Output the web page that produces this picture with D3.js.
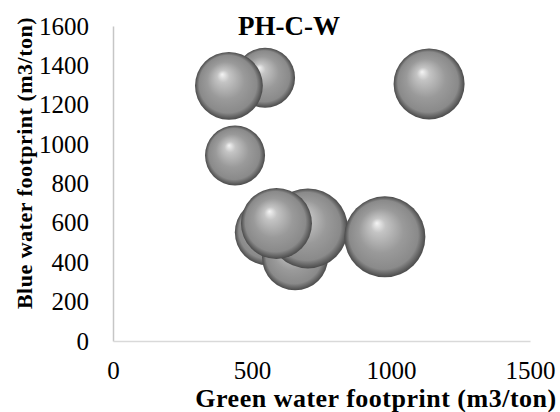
<!DOCTYPE html>
<html><head><meta charset="utf-8">
<script src="https://cdn.jsdelivr.net/npm/d3@7"></script>
<style>body{margin:0;background:#fff} text{font-family:'Liberation Serif','Times New Roman',serif;}</style>
</head><body>
<script>
const greenWF = [547, 417, 1137, 439, 557, 655, 701, 588, 978];
const blueWF  = [1337, 1296, 1306, 942, 552, 425, 572, 597, 529];
const bubbleSize = [900, 1150, 1260, 900, 1090, 1090, 1600, 1260, 1640];
const xTicks = [0, 500, 1000, 1500];
const yTicks = [0, 200, 400, 600, 800, 1000, 1200, 1400, 1600];

const W = 560, H = 412;
const svg = d3.select("body").append("svg").attr("width", W).attr("height", H);
const x = d3.scaleLinear().domain([0, 1500]).range([113, 530]);
const y = d3.scaleLinear().domain([0, 1600]).range([341, 26]);
const r = d3.scaleSqrt().domain([0, d3.max(bubbleSize)]).range([0, 40.5]);

const defs = svg.append("defs");
const g = defs.append("radialGradient").attr("id", "sph")
  .attr("cx", "0.5").attr("cy", "0.5").attr("r", "0.5")
  .attr("fx", "0.4").attr("fy", "0.33");
g.append("stop").attr("offset", "0%").attr("stop-color", "#f4f4f4");
g.append("stop").attr("offset", "18%").attr("stop-color", "#c4c4c4");
g.append("stop").attr("offset", "55%").attr("stop-color", "#9a9a9a");
g.append("stop").attr("offset", "85%").attr("stop-color", "#8a8a8a");
g.append("stop").attr("offset", "100%").attr("stop-color", "#4a4a4a");

const font = "'Liberation Serif','Times New Roman',serif";

const yAxis = svg.append("g").attr("transform", `translate(${x(0)},0)`)
  .call(d3.axisLeft(y).tickValues(yTicks).tickFormat(d3.format("d")).tickSize(0).tickPadding(24));
yAxis.attr("font-family", null);
yAxis.select(".domain").attr("stroke", "#c6c6c6").attr("stroke-width", 1.5);
yAxis.selectAll("text").style("font-family", font).style("font-size", "25px").attr("fill", "#000");

const xAxis = svg.append("g").attr("transform", `translate(0,${y(0)})`)
  .call(d3.axisBottom(x).tickValues(xTicks).tickFormat(d3.format("d")).tickSize(0).tickPadding(20));
xAxis.attr("font-family", null);
xAxis.select(".domain").attr("stroke", "#d9d9d9").attr("stroke-width", 1.5);
xAxis.selectAll("text").style("font-family", font).style("font-size", "25px").attr("fill", "#000");

const data = greenWF.map((v, i) => ({gx: v, by: blueWF[i], s: bubbleSize[i]}));
svg.append("g").selectAll("circle").data(data).join("circle")
  .attr("cx", d => x(d.gx)).attr("cy", d => y(d.by)).attr("r", d => r(d.s))
  .attr("fill", "url(#sph)");

svg.append("text").attr("x", 289).attr("y", 35).attr("text-anchor", "middle")
  .style("font-family", font).attr("font-weight", "bold").style("font-size", "27px").text("PH-C-W");

svg.append("text").attr("x", 376).attr("y", 407).attr("text-anchor", "middle")
  .style("font-family", font).attr("font-weight", "bold").style("font-size", "26px")
  .style("letter-spacing", "0.5px")
  .text("Green water footprint (m3/ton)");

svg.append("text").attr("transform", "translate(32,163) rotate(-90)").attr("text-anchor", "middle")
  .style("font-family", font).attr("font-weight", "bold").style("font-size", "22px")
  .style("letter-spacing", "0.5px")
  .text("Blue water footprint (m3/ton)");
</script>
</body></html>
